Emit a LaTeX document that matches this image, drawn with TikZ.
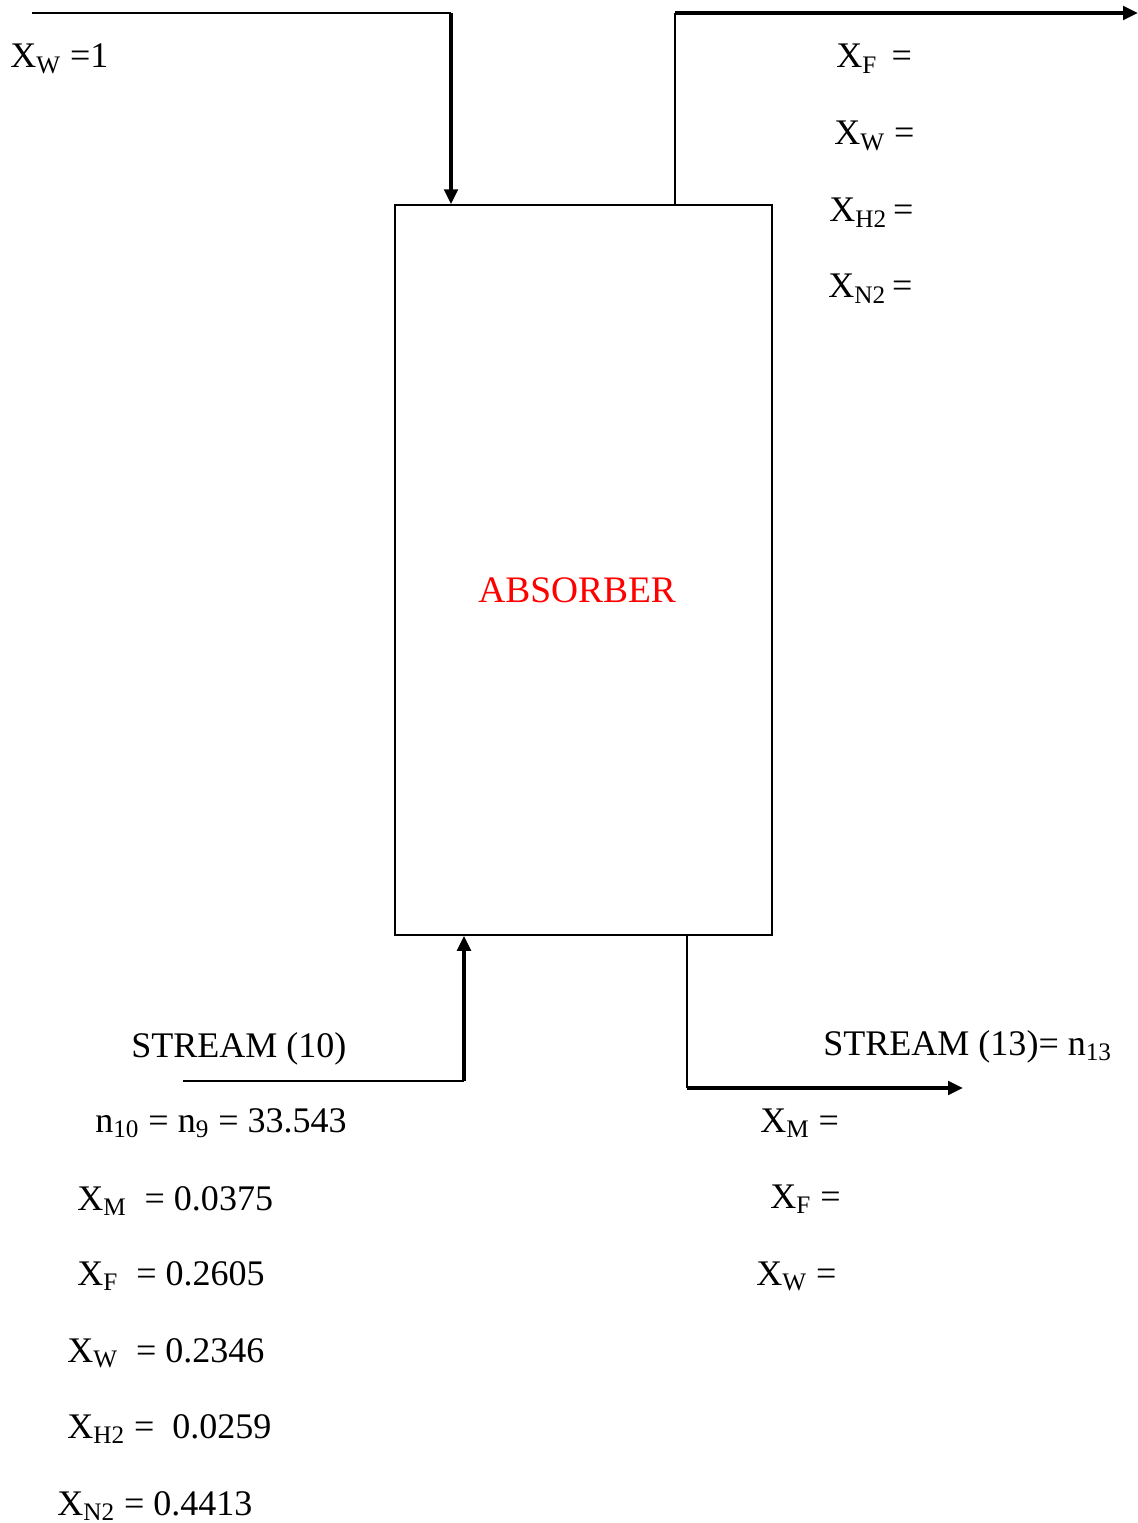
\documentclass[tikz,border=0pt]{standalone}
\usepackage{fontspec}
\setmainfont{Liberation Serif}
\usepackage{xcolor}
\usetikzlibrary{arrows.meta, positioning, calc}

\begin{document}
\begin{tikzpicture}[
  unitbox/.style={
    draw=black, line width=0.85pt, inner sep=0pt,
    minimum width=7.54cm, minimum height=14.6cm
  },
  pipe/.style={draw=black, line width=1.1pt},
  flow/.style={draw=black, line width=2pt, -{Triangle[length=0.3cm, width=0.27cm]}},
  comp/.style={anchor=base west, inner sep=0pt, font=\fontsize{20.5}{24}\selectfont},
  unitname/.style={anchor=base west, inner sep=0pt, text=red, font=\fontsize{21.3}{25}\selectfont}
]
  \useasboundingbox (0,0) rectangle (22.76,-30.46);

  \node[unitbox] (absorber) at (11.67,-11.40) {};
  \node[unitname] (absname) at (9.56,-12.04) {ABSORBER};

  % water in, top left
  \coordinate (wsrc)  at (0.64,-0.26);
  \coordinate (wbend) at (9.02,-0.26);
  \draw[pipe] (wsrc) -- (wbend);
  \draw[flow] (wbend) -- (wbend |- absorber.north);
  \node[comp] (wxw) at (0.20,-1.36) {X\textsubscript{W} =1};

  % gas out, top right
  \coordinate (gbend) at (13.50,-0.26);
  \coordinate (gout)  at (22.76,-0.26);
  \draw[pipe] (gbend |- absorber.north) -- (gbend);
  \draw[flow] (gbend) -- (gout);
  \node[comp] (gxf)  at (16.72,-1.36) {X\textsubscript{F}\hspace{0.4em}=};
  \node[comp] (gxw)  at (16.68,-2.90) {X\textsubscript{W} =};
  \node[comp] (gxh2) at (16.58,-4.44) {X\textsubscript{H2}\,=};
  \node[comp] (gxn2) at (16.56,-5.96) {X\textsubscript{N2}\,=};

  % stream 10 in, bottom left
  \coordinate (fsrc)  at (3.66,-21.62);
  \coordinate (fbend) at (9.28,-21.62);
  \draw[pipe] (fsrc) -- (fbend);
  \draw[flow] (fbend) -- (fbend |- absorber.south);
  \node[comp] (s10)  at (2.62,-21.14) {STREAM (10)};
  \node[comp] (n10)  at (1.90,-22.64) {n\textsubscript{10} = n\textsubscript{9} = 33.543};
  \node[comp] (fxm)  at (1.54,-24.20) {X\textsubscript{M}~ = 0.0375};
  \node[comp] (fxf)  at (1.54,-25.70) {X\textsubscript{F}~ = 0.2605};
  \node[comp] (fxw)  at (1.34,-27.24) {X\textsubscript{W}~ = 0.2346};
  \node[comp] (fxh2) at (1.34,-28.76) {X\textsubscript{H2} = ~0.0259};
  \node[comp] (fxn2) at (1.14,-30.30) {X\textsubscript{N2} = 0.4413};

  % stream 13 out, bottom right
  \coordinate (lbend) at (13.74,-21.76);
  \coordinate (lout)  at (19.26,-21.76);
  \draw[pipe] (lbend |- absorber.south) -- (lbend);
  \draw[flow] (lbend) -- (lout);
  \node[comp] (s13) at (16.46,-21.10) {STREAM (13)= n\textsubscript{13}};
  \node[comp] (lxm) at (15.20,-22.64) {X\textsubscript{M} =};
  \node[comp] (lxf) at (15.40,-24.16) {X\textsubscript{F} =};
  \node[comp] (lxw) at (15.12,-25.70) {X\textsubscript{W} =};
\end{tikzpicture}
\end{document}
